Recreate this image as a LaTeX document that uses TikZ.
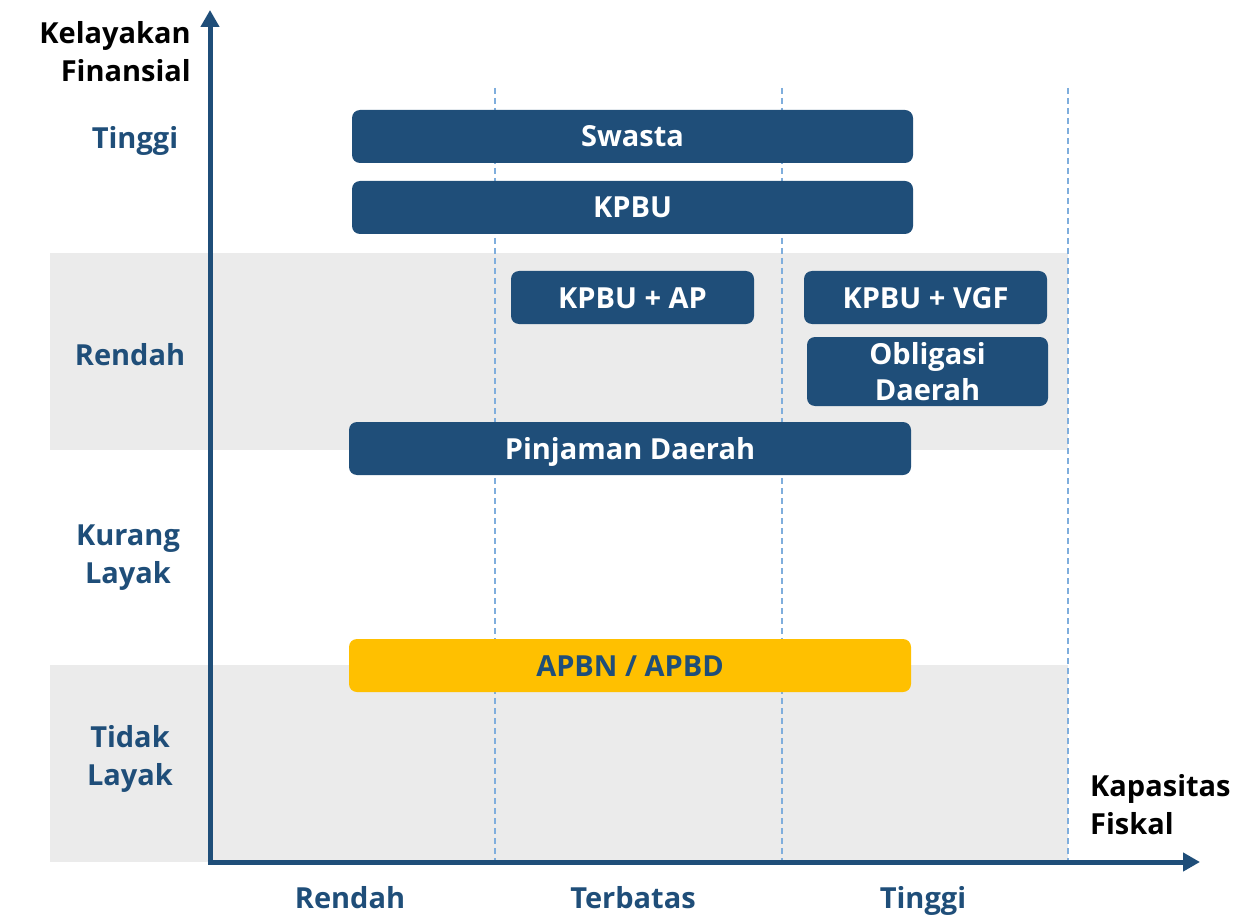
\documentclass[tikz,border=0pt]{standalone}
\usepackage{fontspec}
\setmainfont{Open Sans}[UprightFont=* Bold]
\usetikzlibrary{arrows.meta}
\definecolor{navy}{HTML}{1F4E79}
\definecolor{band}{HTML}{EBEBEB}
\definecolor{dashc}{HTML}{7FAEDD}
\definecolor{gold}{HTML}{FFC000}
\tikzset{
  bar/.style={fill=navy, draw=none, rounded corners=8pt, inner sep=0pt, text=white,
    font=\fontsize{29}{36}\selectfont, align=center},
  lbl/.style={text=navy, inner sep=0pt, font=\fontsize{29}{38}\selectfont, align=center},
  ttl/.style={text=black, inner sep=0pt, font=\fontsize{29}{38}\selectfont},
  one/.style={text height=21pt, text depth=0pt},
  axis/.style={draw=navy, line width=5pt, -{Triangle[length=17pt,width=18pt]}},
  guide/.style={draw=dashc, line width=1.1pt, dash pattern=on 6pt off 4pt},
}
\begin{document}
\begin{tikzpicture}[x=1pt,y=-1pt]
\useasboundingbox (0,0) rectangle (1236,917);
% bands
\fill[band] (50,253) rectangle (1068,450);
\fill[band] (50,665) rectangle (1068,862);
% guides
\coordinate (g1t) at (495,88); \coordinate (g1b) at (495,862);
\coordinate (g2t) at (782,88); \coordinate (g2b) at (782,862);
\coordinate (g3t) at (1068,88); \coordinate (g3b) at (1068,862);
\draw[guide] (g1t) -- (g1b);
\draw[guide] (g2t) -- (g2b);
\draw[guide] (g3t) -- (g3b);
% axes
\coordinate (O) at (210,864.5);
\coordinate (Ox) at (207.5,862);
\coordinate (ytip) at (210,10);
\coordinate (xtip) at (1200,862);
\draw[axis] (O) -- (ytip);
\draw[axis] (Ox) -- (xtip);
% bars
\node[bar, one, minimum width=561pt, minimum height=53pt] (swasta) at (632.5,136.5) {Swasta};
\node[bar, one, minimum width=561pt, minimum height=53pt] (kpbu) at (632.5,207.5) {KPBU};
\node[bar, one, minimum width=243pt, minimum height=53pt] (kpbuap) at (632.5,297.5) {KPBU + AP};
\node[bar, one, minimum width=243pt, minimum height=53pt] (kpbuvgf) at (925.5,297.5) {KPBU + VGF};
\node[bar, minimum width=241pt, minimum height=69pt] (obligasi) at (927.5,371.5) {Obligasi\\Daerah};
\node[bar, one, minimum width=562pt, minimum height=53pt] (pinjaman) at (630,448.5) {Pinjaman Daerah};
\node[bar, one, fill=gold, text=navy, minimum width=562pt, minimum height=53pt] (apbn) at (630,665.5) {APBN / APBD};
% axis titles
\node[ttl, align=right, anchor=east] (ytitle) at (191,52) {Kelayakan\\Finansial};
\node[ttl, align=left, anchor=west] (xtitle) at (1090,805) {Kapasitas\\Fiskal};
% y labels
\node[lbl, one] (ytinggi) at (135,138) {Tinggi};
\node[lbl, one] (yrendah) at (130,355) {Rendah};
\node[lbl] (ykurang) at (128,558) {Kurang\\Layak};
\node[lbl] (ytidak) at (130,758.5) {Tidak\\Layak};
% x labels
\node[lbl, one] (xrendah) at (350,898) {Rendah};
\node[lbl, one] (xterbatas) at (633,898) {Terbatas};
\node[lbl, one] (xtinggi) at (923,898) {Tinggi};
\end{tikzpicture}
\end{document}
